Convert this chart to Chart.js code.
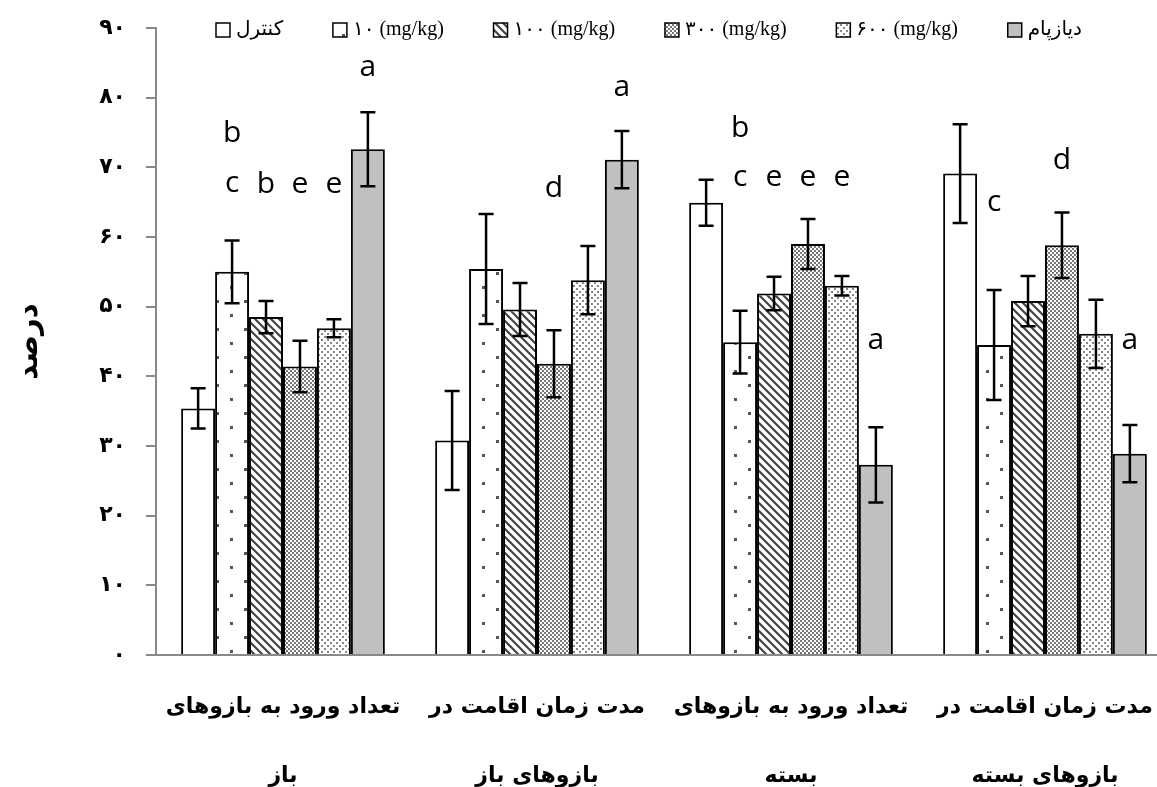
<!DOCTYPE html>
<html>
<head>
<meta charset="utf-8">
<script src="https://cdn.jsdelivr.net/npm/chart.js@4.4.1/dist/chart.umd.min.js"></script>
<style>
  html, body { margin: 0; padding: 0; background: #fff; overflow: hidden; width: 1157px; height: 787px; }
  canvas { display: block; }
</style>
</head>
<body>
<canvas id="chart" width="1172" height="787"></canvas>
<script>
// Categories (two-line axis labels)
const categories = [
  ['تعداد ورود به بازوهای', 'باز'],
  ['مدت زمان اقامت در', 'بازوهای باز'],
  ['تعداد ورود به بازوهای', 'بسته'],
  ['مدت زمان اقامت در', 'بازوهای بسته']
];

// Treatment groups
const seriesNames = ['کنترل', '۱۰ (mg/kg)', '۱۰۰ (mg/kg)', '۳۰۰ (mg/kg)', '۶۰۰ (mg/kg)', 'دیازپام'];

// Mean values (%)
const control  = [35.4, 30.8, 64.9, 69.1];
const dose10   = [55.0, 55.4, 44.9, 44.5];
const dose100  = [48.5, 49.6, 51.9, 50.8];
const dose300  = [41.4, 41.8, 59.0, 58.8];
const dose600  = [46.9, 53.8, 53.0, 46.1];
const diazepam = [72.6, 71.1, 27.3, 28.9];

// Standard errors
const errControl  = [2.9, 7.1, 3.3, 7.1];
const err10       = [4.5, 7.9, 4.5, 7.9];
const err100      = [2.3, 3.8, 2.4, 3.6];
const err300      = [3.7, 4.8, 3.6, 4.7];
const err600      = [1.3, 4.9, 1.4, 4.9];
const errDiazepam = [5.3, 4.1, 5.4, 4.1];

// Y-axis tick labels (Persian digits)
const tickLabels = ['۰', '۱۰', '۲۰', '۳۰', '۴۰', '۵۰', '۶۰', '۷۰', '۸۰', '۹۰'];

// Significance letters: [category index, series index, letter, height on the value axis]
const letters = [
  [0, 1, 'b', 74.9], [0, 1, 'c', 67.7], [0, 2, 'b', 67.5], [0, 3, 'e', 67.5], [0, 4, 'e', 67.5], [0, 5, 'a', 84.3],
  [1, 3, 'd', 67.0], [1, 5, 'a', 81.5],
  [2, 1, 'b', 75.6], [2, 1, 'c', 68.6], [2, 2, 'e', 68.6], [2, 3, 'e', 68.6], [2, 4, 'e', 68.6], [2, 5, 'a', 45.2],
  [3, 1, 'c', 64.9], [3, 3, 'd', 71.0], [3, 5, 'a', 45.2]
];

const values = [control, dose10, dose100, dose300, dose600, diazepam];
const errors = [errControl, err10, err100, err300, err600, errDiazepam];

// ---- fill patterns ----
function makePattern(w, h, draw) {
  const c = document.createElement('canvas');
  c.width = w; c.height = h;
  const g = c.getContext('2d');
  g.fillStyle = '#fff';
  g.fillRect(0, 0, w, h);
  draw(g);
  return document.getElementById('chart').getContext('2d').createPattern(c, 'repeat');
}
const sparseDots = makePattern(28, 28, g => {
  g.fillStyle = '#555';
  g.fillRect(6, 6, 3, 3);
  g.fillRect(20, 20, 3, 3);
});
const diagonal = makePattern(8, 8, g => {
  g.strokeStyle = '#444';
  g.lineWidth = 2.2;
  g.beginPath();
  g.moveTo(-2, -2); g.lineTo(10, 10);
  g.moveTo(-2, 6); g.lineTo(2, 10);
  g.moveTo(6, -2); g.lineTo(10, 2);
  g.stroke();
});
const checker = makePattern(4, 4, g => {
  g.fillStyle = '#777';
  g.fillRect(0, 0, 2, 2);
  g.fillRect(2, 2, 2, 2);
});
const fineDots = makePattern(6, 6, g => {
  g.fillStyle = '#888';
  g.fillRect(0, 0, 2, 2);
  g.fillRect(3, 3, 2, 2);
});
const fills = ['#ffffff', sparseDots, diagonal, checker, fineDots, '#c0c0c0'];

// ---- plugins ----
const errorBars = {
  id: 'errorBars',
  afterDatasetsDraw(chart) {
    const ctx = chart.ctx, y = chart.scales.y;
    ctx.save();
    ctx.strokeStyle = '#000';
    ctx.lineWidth = 2.5;
    chart.data.datasets.forEach((ds, i) => {
      const meta = chart.getDatasetMeta(i);
      meta.data.forEach((bar, j) => {
        const v = ds.data[j], e = errors[i][j];
        const top = y.getPixelForValue(v + e), bot = y.getPixelForValue(v - e);
        ctx.beginPath();
        ctx.moveTo(bar.x, top); ctx.lineTo(bar.x, bot);
        ctx.moveTo(bar.x - 7.5, top); ctx.lineTo(bar.x + 7.5, top);
        ctx.moveTo(bar.x - 7.5, bot); ctx.lineTo(bar.x + 7.5, bot);
        ctx.stroke();
      });
    });
    ctx.restore();
  }
};

const letterLabels = {
  id: 'letterLabels',
  afterDatasetsDraw(chart) {
    const ctx = chart.ctx, y = chart.scales.y;
    ctx.save();
    ctx.fillStyle = '#000';
    ctx.font = '30px "Open Sans", "DejaVu Sans", sans-serif';
    ctx.textAlign = 'center';
    ctx.textBaseline = 'middle';
    letters.forEach(([cat, s, txt, v]) => {
      const bar = chart.getDatasetMeta(s).data[cat];
      ctx.fillText(txt, bar.x, y.getPixelForValue(v));
    });
    ctx.restore();
  }
};

// Legend row spread across the top, boxes followed by labels
const topLegend = {
  id: 'topLegend',
  afterDraw(chart) {
    const ctx = chart.ctx;
    ctx.save();
    ctx.font = '20px "Liberation Serif", "DejaVu Sans", serif';
    ctx.textBaseline = 'middle';
    ctx.textAlign = 'left';
    const box = 14, gapBox = 6, left = 216, right = 1082;
    const items = chart.data.datasets.map(ds => ({ ds, w: ctx.measureText(ds.label).width }));
    const used = items.reduce((a, it) => a + box + gapBox + it.w, 0);
    const gapItem = (right - left - used) / (items.length - 1);
    let x = left;
    const top = 23;
    items.forEach(it => {
      ctx.fillStyle = it.ds.backgroundColor;
      ctx.fillRect(x, top, box, box);
      ctx.strokeStyle = '#000';
      ctx.lineWidth = 1.5;
      ctx.strokeRect(x, top, box, box);
      ctx.fillStyle = '#000';
      ctx.fillText(it.ds.label, x + box + gapBox, top + box / 2);
      x += box + gapBox + it.w + gapItem;
    });
    ctx.restore();
  }
};

new Chart(document.getElementById('chart'), {
  type: 'bar',
  data: {
    labels: categories,
    datasets: seriesNames.map((name, i) => ({
      label: name,
      data: values[i],
      backgroundColor: fills[i],
      borderColor: '#000',
      borderWidth: 2,
      barPercentage: 1,
      categoryPercentage: 0.802
    }))
  },
  options: {
    responsive: false,
    animation: false,
    layout: { padding: { top: 28, left: 0, right: 0, bottom: 0 } },
    plugins: {
      legend: { display: false },
      tooltip: { enabled: false }
    },
    scales: {
      x: {
        grid: { display: false, drawTicks: false },
        border: { color: '#898989', width: 2 },
        ticks: {
          color: '#000',
          autoSkip: false,
          maxRotation: 0,
          padding: 18,
          font: { family: '"DejaVu Sans", sans-serif', size: 22, weight: 'bold', lineHeight: '69px' }
        },
        afterFit: s => { s.height = 132; }
      },
      y: {
        min: 0,
        max: 90,
        ticks: {
          stepSize: 10,
          color: '#000',
          padding: 20,
          font: { family: '"DejaVu Sans", sans-serif', size: 22, weight: 'bold' },
          callback: (v, i) => tickLabels[i]
        },
        grid: { drawOnChartArea: false, drawTicks: true, tickLength: 10, color: '#898989', lineWidth: 2 },
        border: { color: '#898989', width: 2 },
        title: {
          display: true,
          text: 'درصد',
          color: '#000',
          font: { family: '"DejaVu Sans", sans-serif', size: 29, weight: 'bold' },
          padding: { top: 12, bottom: 0 }
        },
        afterFit: s => { s.width = 156; s.paddingTop = 0; s.paddingBottom = 0; }
      }
    }
  },
  plugins: [errorBars, letterLabels, topLegend]
});
</script>
</body>
</html>
